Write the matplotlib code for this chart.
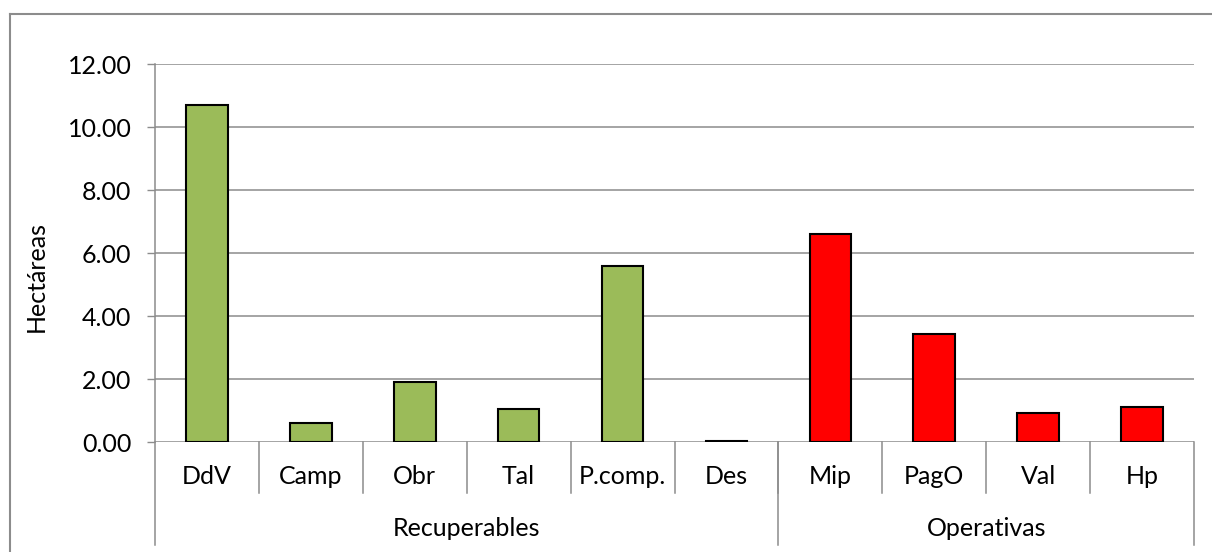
import matplotlib
matplotlib.use("Agg")
import matplotlib.pyplot as plt
import numpy as np
from matplotlib.lines import Line2D

categories = ["DdV", "Camp", "Obr", "Tal", "P.comp.", "Des", "Mip", "PagO", "Val", "Hp"]
values = [10.70, 0.62, 1.90, 1.05, 5.60, 0.03, 6.62, 3.45, 0.92, 1.12]
groups = ["Recuperables", "Operativas"]
group_sizes = [6, 4]
group_colors = ["#9BBB59", "#FF0000"]

W, H = 1212, 552
GRID = "#8c8c8c"
plt.rcParams["font.family"] = ["Lato", "DejaVu Sans"]
FS = 18

fig = plt.figure(figsize=(W / 100, H / 100), dpi=100)


def fx(px):
    return px / W


def fy(py):
    return 1 - py / H


ax = fig.add_axes([fx(155), fy(442.3), fx(1194) - fx(155), fy(64.3) - fy(442.3)])

colors = []
for c, n in zip(group_colors, group_sizes):
    colors += [c] * n

x = np.arange(len(categories))
ax.bar(x, values, width=0.4, color=colors, edgecolor="black", linewidth=1.5, zorder=3)

ax.set_xlim(-0.5, len(categories) - 0.5)
ax.set_ylim(0, 12)
ax.set_yticks(np.arange(0, 12.1, 2))
ax.set_yticklabels([f"{v:.2f}" for v in np.arange(0, 12.1, 2)], fontsize=FS)
ax.tick_params(axis="y", length=6, width=1, color=GRID, pad=11)
ax.set_xticks([])
ax.grid(True, axis="y", color=GRID, linewidth=1.1, zorder=0)
for s in ["top", "right", "bottom"]:
    ax.spines[s].set_visible(False)
ax.spines["left"].set_color(GRID)
ax.spines["left"].set_linewidth(1.1)

# multi-level category axis below the plot
trans = ax.get_xaxis_transform()
for b in range(1, len(categories)):
    ax.add_line(Line2D([b - 0.5, b - 0.5], [0, -51 / 378], transform=trans,
                       color=GRID, linewidth=1.1, clip_on=False))
edges = np.concatenate([[0], np.cumsum(group_sizes)]) - 0.5
for e in edges:
    ax.add_line(Line2D([e, e], [0, -103 / 378], transform=trans,
                       color=GRID, linewidth=1.1, clip_on=False))

for xi, name in zip(x, categories):
    ax.text(xi, -34.5 / 378, name, transform=trans, ha="center", va="center", fontsize=FS)
for i, name in enumerate(groups):
    mid = (edges[i] + edges[i + 1]) / 2
    ax.text(mid, -86 / 378, name, transform=trans, ha="center", va="center", fontsize=FS)

fig.text(fx(36), fy(276), "Hectáreas", rotation=90, ha="center", va="center", fontsize=FS)

# chart frame
fig.add_artist(Line2D([fx(10), fx(10)], [0, fy(14)], color=GRID, linewidth=1.5))
fig.add_artist(Line2D([fx(10), 1], [fy(14), fy(14)], color=GRID, linewidth=1.5))

fig.savefig("out.png", dpi=100)
